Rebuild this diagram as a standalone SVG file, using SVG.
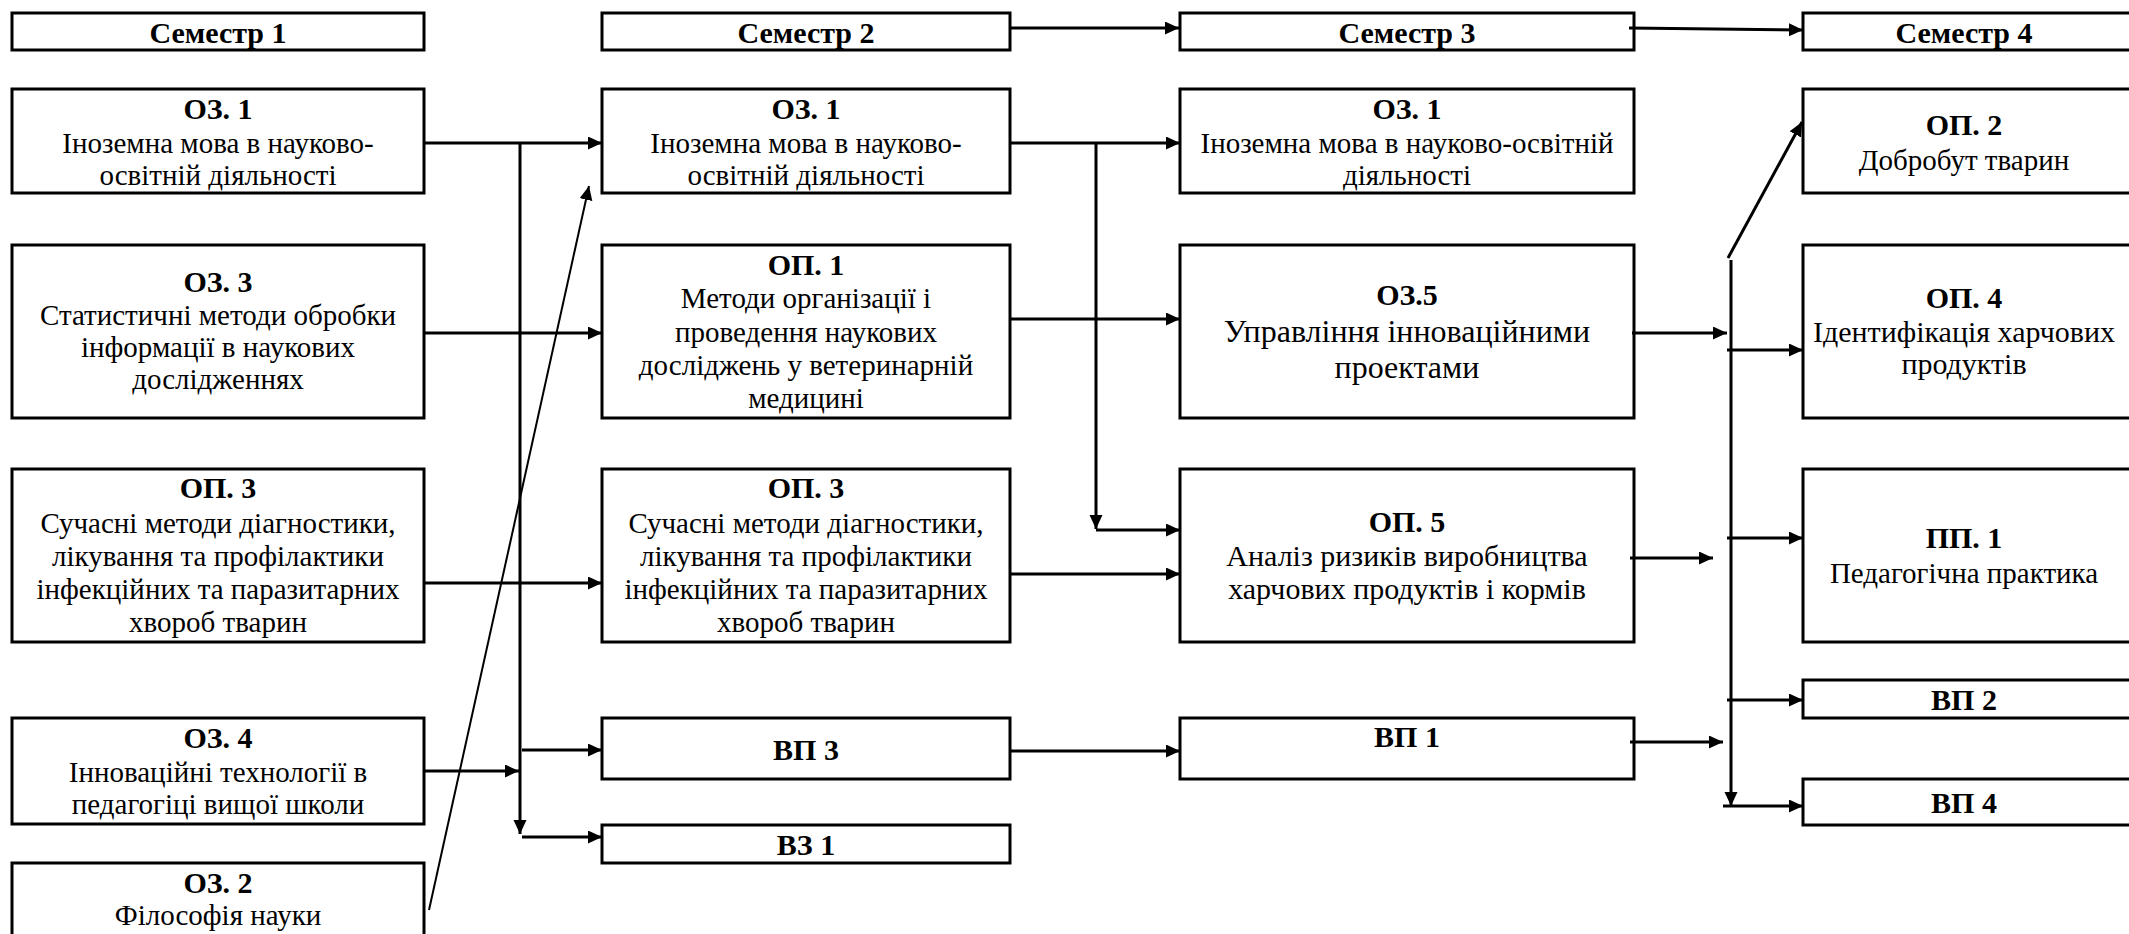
<svg xmlns="http://www.w3.org/2000/svg" width="2129" height="934" viewBox="0 0 2129 934">
<style>
.box{fill:#fff;stroke:#000;stroke-width:3}
text{font-family:'Liberation Serif','Times New Roman','DejaVu Serif',serif;fill:#000;text-anchor:middle}
.t{font-weight:bold;font-size:30px}
.b{font-size:29px}
.m{font-size:30px}
.bl{font-size:32px}
.c{fill:none;stroke:#000;stroke-width:3}
.d{fill:none;stroke:#000;stroke-width:2}
</style>
<defs>
<marker id="ah" markerUnits="userSpaceOnUse" markerWidth="15" markerHeight="14" refX="14" refY="6.5" orient="auto"><path d="M0,0 L14,6.5 L0,13 z" fill="#000"/></marker>
</defs>
<rect width="2129" height="934" fill="#fff"/>
<g id="sem1"><rect class="box" x="12" y="13" width="412" height="37"/><text class="t" x="218" y="43">Семестр 1</text></g>
<g id="sem2"><rect class="box" x="602" y="13" width="408" height="37"/><text class="t" x="806" y="43">Семестр 2</text></g>
<g id="sem3"><rect class="box" x="1180" y="13" width="454" height="37"/><text class="t" x="1407" y="43">Семестр 3</text></g>
<g id="sem4"><rect class="box" x="1803" y="13" width="330" height="37"/><text class="t" x="1964" y="43">Семестр 4</text></g>

<g id="c1-oz1"><rect class="box" x="12" y="89" width="412" height="104"/><text class="t" x="218" y="119">ОЗ. 1</text><text class="b" x="218" y="153">Іноземна мова в науково-</text><text class="b" x="218" y="185">освітній діяльності</text></g>
<g id="c1-oz3"><rect class="box" x="12" y="245" width="412" height="173"/><text class="t" x="218" y="292">ОЗ. 3</text><text class="b" x="218" y="325">Статистичні методи обробки</text><text class="b" x="218" y="357">інформації в наукових</text><text class="b" x="218" y="389">дослідженнях</text></g>
<g id="c1-op3"><rect class="box" x="12" y="469" width="412" height="173"/><text class="t" x="218" y="498">ОП. 3</text><text class="b" x="218" y="533">Сучасні методи діагностики,</text><text class="b" x="218" y="566">лікування та профілактики</text><text class="b" x="218" y="599">інфекційних та паразитарних</text><text class="b" x="218" y="632">хвороб тварин</text></g>
<g id="c1-oz4"><rect class="box" x="12" y="718" width="412" height="106"/><text class="t" x="218" y="748">ОЗ. 4</text><text class="b" x="218" y="782">Інноваційні технології в</text><text class="b" x="218" y="814">педагогіці вищої школи</text></g>
<g id="c1-oz2"><rect class="box" x="12" y="863" width="412" height="90"/><text class="t" x="218" y="893">ОЗ. 2</text><text class="b" x="218" y="925">Філософія науки</text></g>

<g id="c2-oz1"><rect class="box" x="602" y="89" width="408" height="104"/><text class="t" x="806" y="119">ОЗ. 1</text><text class="b" x="806" y="153">Іноземна мова в науково-</text><text class="b" x="806" y="185">освітній діяльності</text></g>
<g id="c2-op1"><rect class="box" x="602" y="245" width="408" height="173"/><text class="t" x="806" y="275">ОП. 1</text><text class="b" x="806" y="308">Методи організації і</text><text class="b" x="806" y="342">проведення наукових</text><text class="b" x="806" y="375">досліджень у ветеринарній</text><text class="b" x="806" y="408">медицині</text></g>
<g id="c2-op3"><rect class="box" x="602" y="469" width="408" height="173"/><text class="t" x="806" y="498">ОП. 3</text><text class="b" x="806" y="533">Сучасні методи діагностики,</text><text class="b" x="806" y="566">лікування та профілактики</text><text class="b" x="806" y="599">інфекційних та паразитарних</text><text class="b" x="806" y="632">хвороб тварин</text></g>
<g id="c2-vp3"><rect class="box" x="602" y="718" width="408" height="61"/><text class="t" x="806" y="760">ВП 3</text></g>
<g id="c2-vz1"><rect class="box" x="602" y="825" width="408" height="38"/><text class="t" x="806" y="855">ВЗ 1</text></g>

<g id="c3-oz1"><rect class="box" x="1180" y="89" width="454" height="104"/><text class="t" x="1407" y="119">ОЗ. 1</text><text class="b" x="1407" y="153">Іноземна мова в науково-освітній</text><text class="b" x="1407" y="185">діяльності</text></g>
<g id="c3-oz5"><rect class="box" x="1180" y="245" width="454" height="173"/><text class="t" x="1407" y="305">ОЗ.5</text><text class="bl" x="1407" y="342">Управління інноваційними</text><text class="bl" x="1407" y="378">проектами</text></g>
<g id="c3-op5"><rect class="box" x="1180" y="469" width="454" height="173"/><text class="t" x="1407" y="532">ОП. 5</text><text class="m" x="1407" y="566">Аналіз ризиків виробництва</text><text class="m" x="1407" y="599">харчових продуктів і кормів</text></g>
<g id="c3-vp1"><rect class="box" x="1180" y="718" width="454" height="61"/><text class="t" x="1407" y="747">ВП 1</text></g>

<g id="c4-op2"><rect class="box" x="1803" y="89" width="330" height="104"/><text class="t" x="1964" y="135">ОП. 2</text><text class="b" x="1964" y="170">Добробут тварин</text></g>
<g id="c4-op4"><rect class="box" x="1803" y="245" width="330" height="173"/><text class="t" x="1964" y="308">ОП. 4</text><text class="m" x="1964" y="342">Ідентифікація харчових</text><text class="m" x="1964" y="374">продуктів</text></g>
<g id="c4-pp1"><rect class="box" x="1803" y="469" width="330" height="173"/><text class="t" x="1964" y="548">ПП. 1</text><text class="b" x="1964" y="583">Педагогічна практика</text></g>
<g id="c4-vp2"><rect class="box" x="1803" y="680" width="330" height="38"/><text class="t" x="1964" y="710">ВП 2</text></g>
<g id="c4-vp4"><rect class="box" x="1803" y="779" width="330" height="46"/><text class="t" x="1964" y="813">ВП 4</text></g>

<g id="connectors">
<line class="c" x1="1010" y1="28" x2="1179" y2="28" marker-end="url(#ah)"/>
<line class="c" x1="1629" y1="28" x2="1803" y2="30" marker-end="url(#ah)"/>
<line class="c" x1="424" y1="143" x2="602" y2="143" marker-end="url(#ah)"/>
<line class="c" x1="520" y1="143" x2="520" y2="834" marker-end="url(#ah)"/>
<line class="c" x1="424" y1="333" x2="602" y2="333" marker-end="url(#ah)"/>
<line class="c" x1="424" y1="583" x2="602" y2="583" marker-end="url(#ah)"/>
<line class="c" x1="424" y1="771" x2="519" y2="771" marker-end="url(#ah)"/>
<line class="c" x1="522" y1="750" x2="602" y2="750" marker-end="url(#ah)"/>
<line class="c" x1="522" y1="837" x2="602" y2="837" marker-end="url(#ah)"/>
<line class="d" x1="429" y1="910" x2="589" y2="186" marker-end="url(#ah)"/>
<line class="c" x1="1010" y1="143" x2="1180" y2="143" marker-end="url(#ah)"/>
<line class="c" x1="1096" y1="143" x2="1096" y2="529" marker-end="url(#ah)"/>
<line class="c" x1="1096" y1="530" x2="1180" y2="530" marker-end="url(#ah)"/>
<line class="c" x1="1010" y1="319" x2="1180" y2="319" marker-end="url(#ah)"/>
<line class="c" x1="1010" y1="574" x2="1180" y2="574" marker-end="url(#ah)"/>
<line class="c" x1="1010" y1="751" x2="1180" y2="751" marker-end="url(#ah)"/>
<line class="c" x1="1632" y1="333" x2="1727" y2="333" marker-end="url(#ah)"/>
<line class="c" x1="1731" y1="260" x2="1731" y2="806" marker-end="url(#ah)"/>
<line class="c" x1="1728" y1="258" x2="1802" y2="122" marker-end="url(#ah)"/>
<line class="c" x1="1727" y1="350" x2="1803" y2="350" marker-end="url(#ah)"/>
<line class="c" x1="1630" y1="558" x2="1713" y2="558" marker-end="url(#ah)"/>
<line class="c" x1="1727" y1="538" x2="1803" y2="538" marker-end="url(#ah)"/>
<line class="c" x1="1727" y1="700" x2="1803" y2="700" marker-end="url(#ah)"/>
<line class="c" x1="1630" y1="742" x2="1723" y2="742" marker-end="url(#ah)"/>
<line class="c" x1="1723" y1="806" x2="1803" y2="806" marker-end="url(#ah)"/>
</g>
</svg>
